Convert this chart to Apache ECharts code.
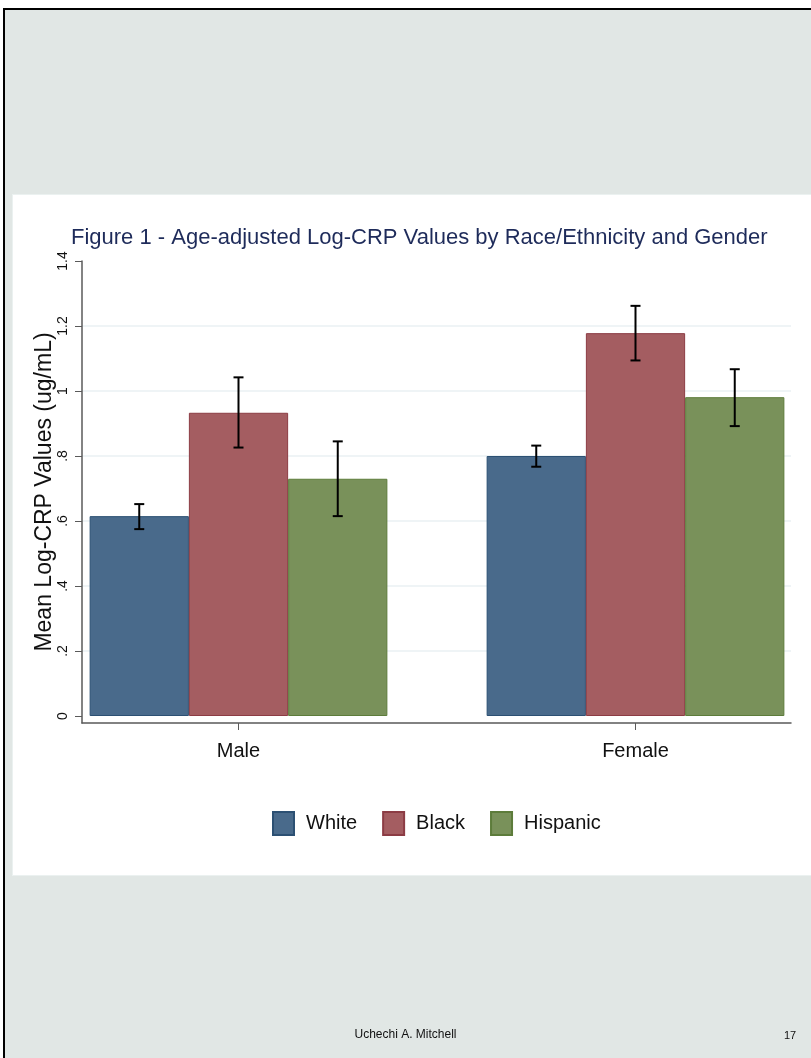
<!DOCTYPE html>
<html>
<head>
<meta charset="utf-8">
<script src="https://cdn.jsdelivr.net/npm/echarts@6/dist/echarts.min.js"></script>
<style>
  html, body { margin: 0; padding: 0; background: #ffffff; }
  #frame { position: absolute; left: 3px; top: 8px; width: 806px; height: 1048px;
           background: #E1E7E5; border-left: 2px solid #000; border-top: 2px solid #000; }
  #panel { position: absolute; left: 12px; top: 194px; width: 798px; height: 680px;
           background: #ffffff; border: 1px solid #EBF1F0; border-right: none; }
  #chart { position: absolute; left: 0; top: 0; width: 811px; height: 1058px; }
</style>
</head>
<body>
<div id="frame"></div>
<div id="panel"></div>
<div id="chart"></div>
<script>
// ---- data ----
const categories = ['Male', 'Female'];
const groupNames = ['White', 'Black', 'Hispanic'];
const whiteMean = [0.615, 0.800];
const blackMean = [0.933, 1.178];
const hispanicMean = [0.730, 0.981];
const whiteLow = [0.575, 0.767];
const whiteHigh = [0.652, 0.832];
const blackLow = [0.826, 1.094];
const blackHigh = [1.042, 1.262];
const hispanicLow = [0.615, 0.892];
const hispanicHigh = [0.845, 1.067];
const yTicks = [0, 0.2, 0.4, 0.6, 0.8, 1, 1.2, 1.4];

const fills = ['#496A8B', '#A45D61', '#79915A'];
const borders = ['#2C5073', '#8C3C44', '#5D7C3B'];
const means = [whiteMean, blackMean, hispanicMean];
const lows = [whiteLow, blackLow, hispanicLow];
const highs = [whiteHigh, blackHigh, hispanicHigh];

const FONT = 'Liberation Sans, Arial, sans-serif';
const chart = echarts.init(document.getElementById('chart'), null, { renderer: 'canvas' });

const series = [];
groupNames.forEach((name, k) => {
  series.push({
    name: name, type: 'bar', xAxisIndex: 0, yAxisIndex: 0,
    data: means[k], barGap: '0%', barCategoryGap: '25%',
    itemStyle: { color: fills[k], borderColor: borders[k], borderWidth: 1 },
    z: 3
  });
});
groupNames.forEach((name, k) => {
  series.push({
    name: name + ' CI', type: 'custom', xAxisIndex: 0, yAxisIndex: 0,
    data: categories.map((c, i) => [i, lows[k][i], highs[k][i]]),
    encode: { x: 0, y: [1, 2] },
    z: 5,
    renderItem: function (params, api) {
      const cat = api.value(0);
      const lo = api.value(1), hi = api.value(2);
      const center = api.coord([cat, 0])[0];
      const band = api.size([1, 0])[0];
      const bw = band * 0.75 / 3;
      const x = center + (k - 1) * bw;
      const yTop = api.coord([cat, hi])[1];
      const yBot = api.coord([cat, lo])[1];
      const cap = 5;
      const st = { stroke: '#000', lineWidth: 2 };
      return { type: 'group', children: [
        { type: 'line', shape: { x1: x, y1: yTop, x2: x, y2: yBot }, style: st },
        { type: 'line', shape: { x1: x - cap, y1: yTop, x2: x + cap, y2: yTop }, style: st },
        { type: 'line', shape: { x1: x - cap, y1: yBot, x2: x + cap, y2: yBot }, style: st }
      ]};
    }
  });
});

const axisColor = '#5a5a5a';
const option = {
  backgroundColor: 'transparent',
  animation: false,
  title: [
    { text: 'Figure 1 - Age-adjusted Log-CRP Values by Race/Ethnicity and Gender',
      left: 66, top: 222,
      textStyle: { fontFamily: FONT, fontSize: 22, fontWeight: 'normal', color: '#1E2B5A' } },
    { text: 'Uchechi A. Mitchell', left: 'center', top: 1024,
      textStyle: { fontFamily: FONT, fontSize: 12, fontWeight: 'normal', color: '#111' } },
    { text: '17', left: 779, top: 1025,
      textStyle: { fontFamily: FONT, fontSize: 11, fontWeight: 'normal', color: '#111' } }
  ],
  legend: {
    data: groupNames, left: 267, top: 806, orient: 'horizontal',
    itemWidth: 21, itemHeight: 23, itemGap: 25, icon: 'rect',
    textStyle: { fontFamily: FONT, fontSize: 20, color: '#111', padding: [0, 0, 0, 7] }
  },
  grid: [
    { left: 40, right: -23, top: 261, bottom: 342, outerBoundsMode: 'none', containLabel: false },   // bars
    { left: 82, right: 20, top: 261, bottom: 335, outerBoundsMode: 'none', containLabel: false },    // axis frame
    { left: 82, right: 20, top: 261, bottom: 342, outerBoundsMode: 'none', containLabel: false }     // gridlines
  ],
  xAxis: [
    { type: 'category', gridIndex: 0, data: categories, offset: 7,
      axisLine: { show: false, onZero: false },
      axisTick: { show: true, alignWithLabel: true, length: 7, lineStyle: { color: axisColor, width: 1 } },
      axisLabel: { margin: 18, fontFamily: FONT, fontSize: 20, color: '#111' } },
    { type: 'value', gridIndex: 1, min: 0, max: 1,
      axisLine: { show: true, onZero: false, lineStyle: { color: axisColor, width: 1.5 } },
      axisTick: { show: false }, axisLabel: { show: false }, splitLine: { show: false } },
    { type: 'value', gridIndex: 2, min: 0, max: 1, show: false }
  ],
  yAxis: [
    { type: 'value', gridIndex: 0, min: 0, max: 1.4, interval: 0.2, show: false },
    { type: 'value', gridIndex: 1, min: -0.02154, max: 1.4,
      name: 'Mean Log-CRP Values (ug/mL)', nameLocation: 'middle', nameRotate: 90, nameGap: 26,
      nameMoveOverlap: false,
      nameTextStyle: { fontFamily: FONT, fontSize: 23, color: '#111' },
      axisLine: { show: true, onZero: false, lineStyle: { color: axisColor, width: 1.5 } },
      axisTick: { show: true, length: 7, customValues: yTicks, lineStyle: { color: axisColor, width: 1 } },
      axisLabel: { customValues: yTicks, rotate: 90, margin: 12, fontFamily: FONT, fontSize: 14, color: '#111',
        formatter: v => (v === 0 ? '0' : String(Math.round(v * 10) / 10).replace(/^0\./, '.')) },
      splitLine: { show: false } },
    { type: 'value', gridIndex: 2, min: 0, max: 1.4, interval: 0.2,
      axisLine: { show: false }, axisTick: { show: false }, axisLabel: { show: false },
      splitLine: { show: true, showMinLine: false, showMaxLine: false,
        lineStyle: { color: '#EAF1F3', width: 1.5 } } }
  ],
  series: series
};
chart.setOption(option);
</script>
</body>
</html>
